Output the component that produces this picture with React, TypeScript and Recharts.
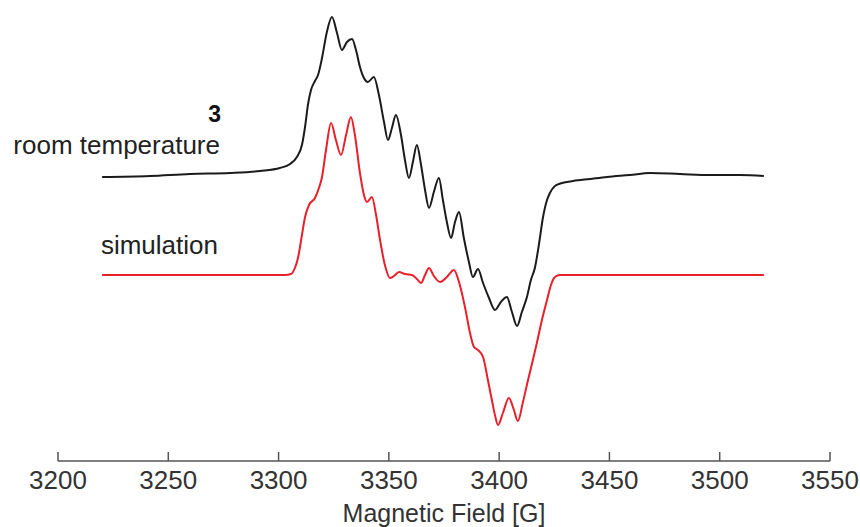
import { LineChart, Line, XAxis, YAxis } from "recharts";

// room temperature spectrum (field in G, signal in arb. units above its own baseline)
const measuredField = [
  3220, 3241.7, 3259.8, 3278.0, 3291.6, 3300.6, 3305.2, 3308.3, 3310.6, 3312.0,
  3313.3, 3314.7, 3316.5, 3317.9, 3319.7, 3321.9, 3324.2, 3326.5, 3328.7, 3331.0,
  3333.3, 3335.1, 3336.9, 3338.7, 3340.5, 3343.2, 3345.5, 3347.8, 3349.6, 3351.4,
  3353.2, 3355.5, 3357.3, 3359.1, 3360.9, 3362.7, 3364.6, 3366.4, 3368.2, 3370.4,
  3372.7, 3374.5, 3376.3, 3378.2, 3380.0, 3381.8, 3384.0, 3386.3, 3388.1, 3390.4,
  3392.7, 3395.4, 3398.1, 3400.8, 3403.5, 3405.8, 3408.1, 3410.3, 3412.6, 3414.4,
  3416.2, 3418.0, 3419.9, 3421.7, 3423.0, 3425.3, 3428.5, 3433.5, 3441.2, 3448.9,
  3459.3, 3468.4, 3482.0, 3495.6, 3509.2, 3520,
];
const measuredSignal = [
  -1, 0, 2, 3, 5, 8, 12, 19, 31, 49,
  71, 86, 95, 101, 118, 144, 159, 143, 126, 134,
  137, 126, 109, 98, 94, 99, 81, 54, 36, 48,
  61, 41, 16, -2, 14, 31, 11, -14, -32, -16,
  -2, -24, -46, -62, -46, -36, -62, -86, -101, -93,
  -107, -122, -134, -126, -121, -136, -150, -136, -121, -104,
  -92, -69, -41, -24, -17, -10, -7, -5, -3, -1,
  1, 3, 2, 1, 1, 0,
];

// simulation
const simField = [
  3220, 3264.4, 3302.9, 3305.6, 3307.4, 3308.8, 3310.6, 3312.0, 3313.8, 3316.5,
  3318.3, 3319.7, 3321.5, 3323.8, 3326.0, 3328.3, 3330.6, 3332.8, 3334.6, 3336.9,
  3338.7, 3340.1, 3342.3, 3344.2, 3346.0, 3348.2, 3350.5, 3352.3, 3354.6, 3357.3,
  3360.5, 3362.7, 3364.6, 3366.4, 3368.2, 3370.4, 3373.2, 3376.3, 3379.5, 3381.8,
  3384.5, 3386.8, 3388.6, 3390.4, 3392.7, 3394.9, 3396.7, 3398.1, 3399.5, 3401.7,
  3404.4, 3406.7, 3408.5, 3410.8, 3413.1, 3415.3, 3417.1, 3419.4, 3421.7, 3423.5,
  3425.3, 3427.6, 3445.7, 3520,
];
const simSignal = [
  0, 0, 0, 1, 7, 17, 40, 58, 70, 77,
  87, 98, 125, 152, 135, 120, 140, 158, 140, 102,
  80, 73, 78, 60, 35, 10, -3, -1, 3, 1,
  0, -4, -8, 0, 7, -1, -7, -2, 5, -7,
  -32, -58, -72, -75, -82, -105, -125, -140, -150, -138,
  -123, -135, -146, -127, -105, -85, -68, -45, -25, -10,
  -2, 0, 0, 0,
];

const fieldTicks = [3200, 3250, 3300, 3350, 3400, 3450, 3500, 3550];

// vertical stacking of the two traces
const MEASURED_OFFSET = 99;

const measuredData = measuredField.map((f, i) => ({ field: f, y: measuredSignal[i] + MEASURED_OFFSET }));
const simData = simField.map((f, i) => ({ field: f, y: simSignal[i] }));

const FONT = '"Liberation Sans", Arial, Helvetica, sans-serif';

export default function App() {
  return (
    <div style={{ position: "absolute", left: 0, top: 0, width: 860, height: 527, background: "#fff" }}>
      <LineChart width={860} height={527} margin={{ top: 0, right: 30, left: 58, bottom: 0 }}>
        <XAxis
          dataKey="field"
          type="number"
          domain={[3200, 3550]}
          ticks={fieldTicks}
          allowDataOverflow
          height={66}
          stroke="#555"
          strokeWidth={1.5}
          tickSize={-9}
          tickMargin={19}
          tick={{ fill: "#333", fontSize: 26, fontFamily: FONT }}
          label={{
            value: "Magnetic Field [G]",
            position: "insideBottom",
            offset: 5,
            fill: "#333",
            fontSize: 25,
            fontFamily: FONT,
          }}
        />
        <YAxis type="number" domain={[-186, 275]} hide allowDataOverflow />
        <Line
          data={measuredData}
          dataKey="y"
          type="monotone"
          stroke="#1b1b1b"
          strokeWidth={2}
          dot={false}
          isAnimationActive={false}
        />
        <Line
          data={simData}
          dataKey="y"
          type="monotone"
          stroke="#e8202a"
          strokeWidth={2}
          dot={false}
          isAnimationActive={false}
        />
      </LineChart>
      <svg
        width={860}
        height={527}
        style={{ position: "absolute", left: 0, top: 0, pointerEvents: "none" }}
      >
        <text x={221} y={122} textAnchor="end" fontFamily={FONT} fontSize={23} fontWeight="bold" fill="#111">
          3
        </text>
        <text x={220} y={154} textAnchor="end" fontFamily={FONT} fontSize={26} fill="#222">
          room temperature
        </text>
        <text x={218} y={254} textAnchor="end" fontFamily={FONT} fontSize={26} fill="#222">
          simulation
        </text>
      </svg>
    </div>
  );
}
